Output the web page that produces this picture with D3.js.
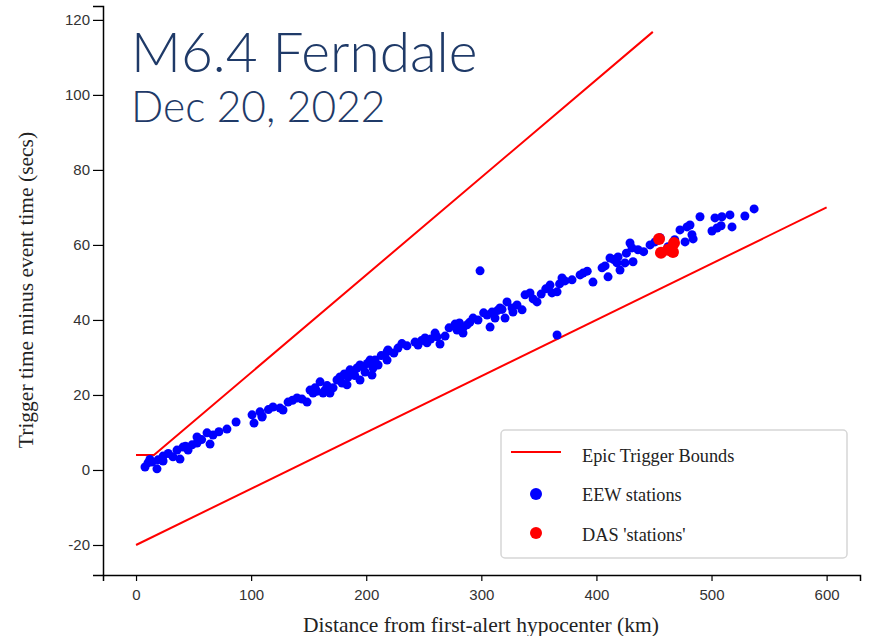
<!DOCTYPE html>
<html>
<head>
<meta charset="utf-8">
<script src="https://cdn.jsdelivr.net/npm/d3@7"></script>
<style>
    body { margin: 0; background: #fff; }
    svg { display: block; }
</style>
</head>
<body>
<svg width="870" height="636"></svg>
<script>
// trigger bounds (km, secs)
var upperBound = [[0, 4], [15.6, 4], [449, 116.8]];
var lowerBound = [[0, -20], [600, 70]];

// EEW stations: distance (km), trigger time minus event time (secs)
var eewDist = [7.8, 10.4, 13.9, 18.2, 19.1, 23.5, 23.5, 32.1, 35.6, 38.2, 40.8, 45.2, 48.7, 53, 53, 61.7, 64.3, 66.9,
    79, 86.9, 100.8, 102.5, 107.7, 109.5, 109.5, 119, 125.1, 127.7, 132.1, 139.9, 144.2, 148.6, 151.2, 153.8, 155.5,
    159.9, 162.5, 164.2, 168.5, 171.2, 174.6, 177.2, 179, 183.3, 184.2, 185.9, 188.5, 192, 194.6, 194.6, 197.2, 199,
    203.3, 205, 205.9, 207.6, 210.3, 218.1, 218.1, 218.9, 227.6, 235.4, 242.4, 245, 251.1, 252.8, 259.8, 261.5, 264.1,
    268.5, 277.2, 278.9, 284.1, 284.1, 287.6, 292.8, 297.1, 305, 307.6, 309.3, 311.9, 316.2, 320.6, 322.3, 326.7,
    298.9, 327.5, 331, 335.4, 338, 342.3, 348.4, 359.7, 361.4, 365.8, 370.1, 372.7, 378.8, 385.8, 388.4, 397, 404.9,
    407.5, 410.1, 411.8, 417.9, 418.8, 420.5, 424.8, 429.2, 430.9, 431.8, 365.8, 436.1, 446.6, 450.9, 455.3, 462.2,
    472.6, 477, 478.7, 481.3, 483, 484, 490, 500.4, 503, 504.8, 508.3, 509, 516, 517.8, 529, 537,
    12, 28, 43, 57, 72, 115, 136, 157, 166, 181, 190, 201, 213, 224, 231, 248, 256, 272, 281, 290, 302, 314, 318,
    345, 352, 356, 368, 392, 415, 426, 441, 468];
var eewTime = [0.8, 1.9, 2.1, 0.3, 2.7, 3.7, 2.4, 3.5, 5.3, 2.9, 6.1, 5.3, 6.7, 8.8, 7.2, 9.9, 6.9, 9.3,
    10.9, 12.8, 14.7, 12.5, 15.5, 14.4, 14.1, 16.8, 16.5, 16, 18.1, 19.2, 18.9, 18.1, 21.3, 20.5, 21.9,
    23.5, 20.5, 21.3, 20.5, 21.9, 24, 24.8, 23.2, 22.7, 24.8, 26.7, 25.9, 27.2, 28, 24, 27.5, 26.1,
    29.3, 25.3, 27.2, 29.3, 28, 31.5, 29.3, 32, 32.5, 33.1, 34.1, 33.3, 35.2, 33.9, 36.5, 35.5, 33.6,
    35.7, 38.9, 37.3, 37.9, 36.5, 38.7, 40.5, 40, 41.3, 38.1, 42.1, 40.5, 43.2, 40.5, 44.8, 43.2,
    53.1, 42.1, 44, 42.7, 46.7, 47.2, 44.8, 49.3, 47.2, 47.5, 51.2, 50.4, 50.7, 52, 52.5, 50.1, 53.9,
    54.4, 51.5, 56.5, 55.2, 56.8, 53.3, 55.2, 60.5, 59.2, 55.5, 36, 58.7, 60, 60.8, 61.9, 59.5,
    64, 60.8, 64.8, 65.3, 62.7, 61.6, 67.5, 63.7, 67.2, 64.5, 65.1, 67.5, 68, 64.8, 67.7, 69.6,
    2.8, 4.4, 6.3, 8.1, 10.2, 16.1, 18.6, 21, 22.5, 25.6, 25.2, 28.4, 30.5, 31.2, 33.7, 34.5, 34.9, 37.9, 39.2,
    39.4, 41.9, 42.5, 42.8, 45.6, 46.9, 48.3, 49.6, 53, 56.1, 57.8, 58.2, 61.4];

// DAS 'stations'
var dasDist = [454.4, 456.1, 462.2, 466.5, 467.4];
var dasTime = [61.6, 57.9, 58.7, 58.1, 60.5];

var xTicks = [0, 100, 200, 300, 400, 500, 600];
var yTicks = [-20, 0, 20, 40, 60, 80, 100, 120];

var legendItems = ['Epic Trigger Bounds', 'EEW stations', "DAS 'stations'"];

var margin = { top: 6, right: 10, bottom: 61, left: 103 };
var width = 870, height = 636;

var svg = d3.select('svg');

var x = d3.scaleLinear().domain([-28.7, 629]).range([margin.left, width - margin.right]);
var y = d3.scaleLinear().domain([-28, 123.7]).range([height - margin.bottom, margin.top]);

// axes (plain hyphen for negatives)
var fmt = function (d) { return String(d); };
var xAxis = svg.append('g')
    .attr('transform', 'translate(0,' + (height - margin.bottom) + ')')
    .call(d3.axisBottom(x).tickValues(xTicks).tickFormat(fmt).tickSizeOuter(6).tickPadding(8));
var yAxis = svg.append('g')
    .attr('transform', 'translate(' + margin.left + ',0)')
    .call(d3.axisLeft(y).tickValues(yTicks).tickFormat(fmt).tickSizeOuter(10).tickPadding(4));

[xAxis, yAxis].forEach(function (g) {
    g.select('.domain').attr('stroke', '#000').attr('stroke-width', 1.5);
    g.selectAll('.tick line').attr('stroke', '#000').attr('stroke-width', 1.2);
    g.selectAll('.tick text')
        .attr('fill', '#333')
        .style('font-family', '"Liberation Sans", Arial, sans-serif')
        .style('font-size', '15px');
});
yAxis.selectAll('.tick line').attr('x2', -10);
yAxis.selectAll('.tick text').attr('x', -13);

// axis titles
svg.append('text')
    .attr('x', 481).attr('y', 632)
    .attr('text-anchor', 'middle')
    .style('font-family', '"Liberation Serif", "Times New Roman", serif')
    .style('font-size', '21.5px')
    .attr('fill', '#222')
    .text('Distance from first-alert hypocenter (km)');
svg.append('text')
    .attr('transform', 'translate(33,290) rotate(-90)')
    .attr('text-anchor', 'middle')
    .style('font-family', '"Liberation Serif", "Times New Roman", serif')
    .style('font-size', '21.5px')
    .attr('fill', '#222')
    .text('Trigger time minus event time (secs)');

// bound lines
var line = d3.line().x(function (d) { return x(d[0]); }).y(function (d) { return y(d[1]); });
[upperBound, lowerBound].forEach(function (b) {
    svg.append('path')
        .attr('d', line(b))
        .attr('fill', 'none')
        .attr('stroke', 'red')
        .attr('stroke-width', 2);
});

// stations
svg.append('g').selectAll('circle')
    .data(eewDist)
    .enter()
    .append('circle')
    .attr('cx', function (d) { return x(d); })
    .attr('cy', function (d, i) { return y(eewTime[i]); })
    .attr('r', 4.5)
    .attr('fill', 'blue');

svg.append('g').selectAll('circle')
    .data(dasDist)
    .enter()
    .append('circle')
    .attr('cx', function (d) { return x(d); })
    .attr('cy', function (d, i) { return y(dasTime[i]); })
    .attr('r', 6)
    .attr('fill', 'red');

// title
svg.append('text')
    .attr('x', 131).attr('y', 72)
    .style('font-family', 'Lato, "Open Sans", sans-serif')
    .style('font-weight', 300)
    .style('font-size', '55px')
    .attr('fill', '#1f3a68')
    .text('M6.4 Ferndale');
svg.append('text')
    .attr('x', 131).attr('y', 122)
    .style('font-family', 'Lato, "Open Sans", sans-serif')
    .style('font-weight', 300)
    .style('font-size', '42.5px')
    .attr('fill', '#1f3a68')
    .text('Dec 20, 2022');

// legend
var legend = svg.append('g').attr('transform', 'translate(501,430)');
legend.append('rect')
    .attr('width', 346).attr('height', 128)
    .attr('rx', 4)
    .attr('fill', '#fff')
    .attr('stroke', '#d6d6d6')
    .attr('stroke-width', 1.5);
legend.append('line')
    .attr('x1', 10).attr('x2', 60).attr('y1', 22).attr('y2', 22)
    .attr('stroke', 'red').attr('stroke-width', 2);
legend.append('circle').attr('cx', 35).attr('cy', 64).attr('r', 6).attr('fill', 'blue');
legend.append('circle').attr('cx', 35).attr('cy', 103).attr('r', 6).attr('fill', 'red');
legend.selectAll('text.item')
    .data(legendItems)
    .enter()
    .append('text')
    .attr('class', 'item')
    .attr('x', 81)
    .attr('y', function (d, i) { return [26, 65, 105][i]; })
    .attr('dy', '0.32em')
    .style('font-family', '"Liberation Serif", "Times New Roman", serif')
    .style('font-size', '18.3px')
    .attr('fill', '#222')
    .text(function (d) { return d; });
</script>
</body>
</html>
